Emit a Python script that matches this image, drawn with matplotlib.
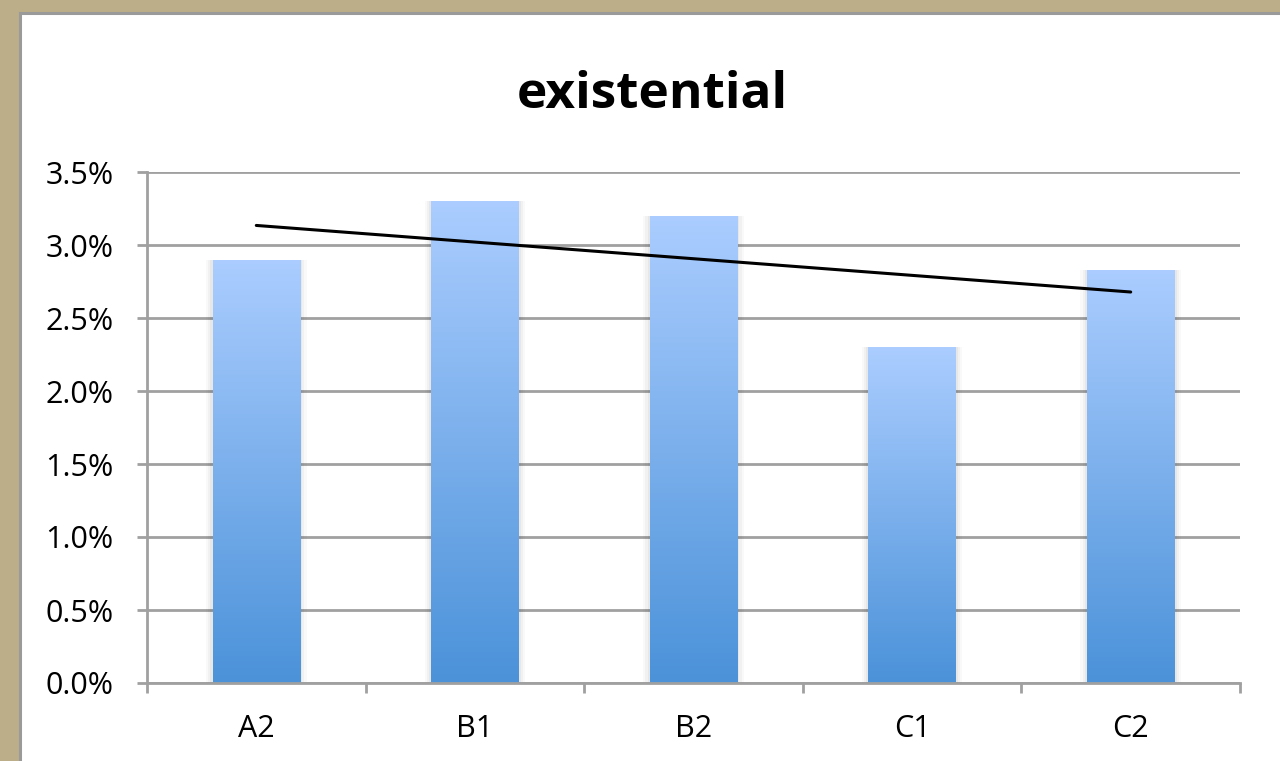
import numpy as np
import matplotlib.pyplot as plt
from matplotlib.patches import Rectangle
from matplotlib.colors import LinearSegmentedColormap
from matplotlib.ticker import FuncFormatter, FixedLocator

# data
categories = ['A2', 'B1', 'B2', 'C1', 'C2']
values     = [2.90, 3.30, 3.20, 2.30, 2.83]      # percent
yticks     = [0.0, 0.5, 1.0, 1.5, 2.0, 2.5, 3.0, 3.5]
title      = 'existential'

W, H = 1280, 761
fig = plt.figure(figsize=(W/100, H/100), dpi=100, facecolor='#bcae88')

# white slide panel with grey frame
fig.patches.append(Rectangle((20/W, -0.05), 1.1, 1 - 13/H + 0.05, transform=fig.transFigure,
                             facecolor='white', edgecolor='#9a9a9a', linewidth=2.2, zorder=-5))

ax = fig.add_axes([147/W, 1 - 683/H, 1093/W, 511/H])
ax.set_facecolor('none')

x = np.arange(len(categories))
bw = 0.40
gcol = '#a0a0a0'

# bars: blue vertical gradient with a faint side shadow
cmap = LinearSegmentedColormap.from_list('bluegrad', ['#4b92d9', '#abcdff'])
grad = np.linspace(0, 1, 256).reshape(-1, 1)
bars = ax.bar(x, values, width=bw, color='none', zorder=3)
for b, v in zip(bars, values):
    x0 = b.get_x()
    for k, a in zip([0.03, 0.02, 0.01], [0.025, 0.03, 0.04]):
        ax.add_patch(Rectangle((x0 - k, 0), bw + 2*k, v, facecolor='#000000',
                               alpha=a, edgecolor='none', zorder=2))
    im = ax.imshow(grad, cmap=cmap, origin='lower', aspect='auto',
                   extent=[x0, x0 + bw, 0, v], zorder=3)
    im.set_clip_path(b)

# linear trendline
p = np.polyfit(x, values, 1)
ax.plot(x, np.polyval(p, x), color='black', linewidth=2.2, zorder=4, solid_capstyle='round')

ax.set_xlim(-0.5, len(categories) - 0.5)
ax.set_ylim(0, 3.5)

ax.set_yticks(yticks)
ax.yaxis.set_major_formatter(FuncFormatter(lambda v, pos: '{:.1f}%'.format(v)))
ax.yaxis.grid(True, color=gcol, linewidth=2.0, zorder=1)
ax.set_axisbelow(True)

ax.set_xticks(x)
ax.set_xticklabels(categories)
ax.xaxis.set_minor_locator(FixedLocator(np.arange(-0.5, len(categories), 1.0)))

for s in ['top', 'right']:
    ax.spines[s].set_visible(False)
for s in ['left', 'bottom']:
    ax.spines[s].set_color(gcol)
    ax.spines[s].set_linewidth(2.0)
    ax.spines[s].set_zorder(5)

ax.tick_params(axis='y', which='major', length=7, width=2.0, color=gcol, pad=17,
               labelsize=22, labelcolor='black')
ax.tick_params(axis='x', which='major', length=0, pad=22, labelsize=22, labelcolor='black')
ax.tick_params(axis='x', which='minor', length=7, width=2.0, color=gcol)

for t in ax.get_xticklabels() + ax.get_yticklabels():
    t.set_fontfamily('Open Sans')

fig.text(652/W, 1 - 95/H, title, ha='center', va='center', fontsize=37,
         fontweight='bold', fontfamily='Open Sans')

fig.savefig('out.png', dpi=100, facecolor=fig.get_facecolor())
